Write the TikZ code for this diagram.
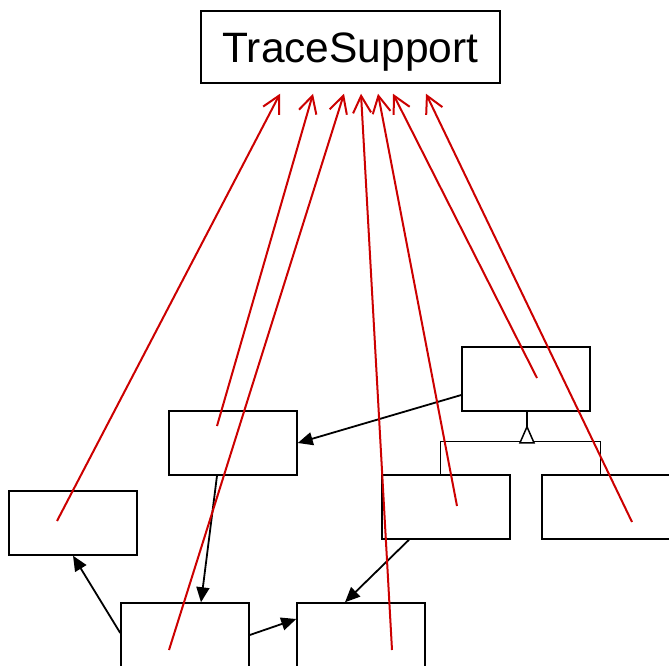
\documentclass[tikz,border=0pt]{standalone}
\usepackage{fontspec}
\setmainfont{Liberation Sans}
\usetikzlibrary{arrows.meta,calc}
\definecolor{tracered}{RGB}{204,0,0}
\begin{document}
\begin{tikzpicture}[x=1pt,y=-1pt,
  cls/.style={draw,line width=1.5pt,fill=white,minimum width=128pt,minimum height=64pt,inner sep=0pt},
  assoc/.style={line width=1.8pt,-{Triangle[length=15pt,width=13pt]}},
  trace/.style={draw=tracered,line width=2pt,-{Straight Barb[length=17pt,width=18pt,line width=2pt]}},
  gen/.style={line width=1.5pt}]
\useasboundingbox (0,0) rectangle (669,666);
\clip (0,0) rectangle (669,666);
\node[draw,line width=1.5pt,fill=white,minimum width=299pt,minimum height=72pt,inner sep=0pt,
      text height=30.4pt,text depth=0pt,font=\fontsize{42.5pt}{50pt}\selectfont] (T) at (350.5,47) {TraceSupport};
\node[cls] (A) at (526,379) {};
\node[cls] (B) at (233,443) {};
\node[cls] (C) at (73,523) {};
\node[cls] (D) at (185,635) {};
\node[cls] (E) at (361,635) {};
\node[cls] (F) at (446,507) {};
\node[cls] (G) at (606,507) {};
% generalization
\coordinate (fj) at ($(F.north west)+(59,0)$);
\coordinate (gj) at ($(G.north west)+(59,0)$);
\coordinate (atop) at ($(A.south)+(1,0)$);
\coordinate (atip) at ($(A.south)+(1,15)$);
\draw[gen] (fj) -- ++(0,-33) -| (gj);
\draw[gen] (atop) -- (atip);
\draw[gen,fill=white,line join=miter] (atip) -- ++(-7,16) -- ++(14,0) -- cycle;
% associations
\draw[assoc] ($(A.west)+(0,16)$) -- (B.east);
\draw[assoc] ($(B.south)+(-16,0)$) -- ($(D.north)+(16,0)$);
\draw[assoc] ($(D.west)+(0,-2)$) -- (C.south);
\draw[assoc] (D.east) -- ($(E.west)+(0,-16)$);
\draw[assoc] ($(F.south)+(-37,0)$) -- ($(E.north)+(-16,0)$);
% trace dependencies
\coordinate (sC) at ($(C.center)+(-16,-2)$);
\coordinate (sB) at ($(B.center)+(-16,-17)$);
\coordinate (sD) at ($(D.center)+(-16,15)$);
\coordinate (sE) at ($(E.center)+(31,15)$);
\coordinate (sF) at ($(F.center)+(11,-1)$);
\coordinate (sA) at ($(A.center)+(11,-1)$);
\coordinate (sG) at ($(G.center)+(26,15)$);
\coordinate (t1) at ($(T.south)+(-70.5,10)$);
\coordinate (t2) at ($(T.south)+(-37.5,10)$);
\coordinate (t3) at ($(T.south)+(-6.5,10)$);
\coordinate (t4) at ($(T.south)+(10.5,10)$);
\coordinate (t5) at ($(T.south)+(27.5,10)$);
\coordinate (t6) at ($(T.south)+(42.5,10)$);
\coordinate (t7) at ($(T.south)+(75.5,10)$);
\draw[trace] (sC) -- (t1);
\draw[trace] (sB) -- (t2);
\draw[trace] (sD) -- (t3);
\draw[trace] (sE) -- (t4);
\draw[trace] (sF) -- (t5);
\draw[trace] (sA) -- (t6);
\draw[trace] (sG) -- (t7);
\end{tikzpicture}
\end{document}
